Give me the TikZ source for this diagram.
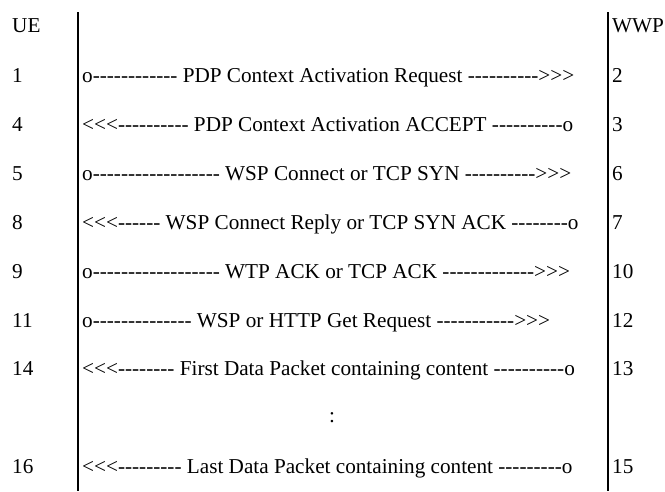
\documentclass[tikz,border=0pt]{standalone}
\usepackage{fontspec}
\setmainfont{Liberation Serif}[Ligatures=TeXOff]
\begin{document}
\begin{tikzpicture}[x=1pt,y=-1pt,
  lbl/.style={anchor=base west,inner sep=0pt,font=\fontsize{21.2}{24}\selectfont},
  msg/.style={anchor=base west,inner sep=0pt,font=\fontsize{21.2}{24}\selectfont},
  lifeline/.style={line width=2pt,black}]
\useasboundingbox (0,0) rectangle (665,491);
\coordinate (ltop) at (77.5,12);
\coordinate (lbot) at (77.5,491);
\coordinate (rtop) at (608,12);
\coordinate (rbot) at (608,491);
\draw[lifeline] (ltop) -- (lbot);
\draw[lifeline] (rtop) -- (rbot);
\node[lbl] (ue) at (12,32) {UE};
\node[lbl] (wwp) at (612,32) {WWP};
% rows
\node[lbl] (l1) at (12,82) {1};
\node[msg] (m1) at (82,82) {o------------ PDP Context Activation Request ---------->>>};
\node[lbl] (r1) at (612,82) {2};
\node[lbl] (l2) at (12,131) {4};
\node[msg] (m2) at (82,131) {<<<---------- PDP Context Activation ACCEPT ----------o};
\node[lbl] (r2) at (612,131) {3};
\node[lbl] (l3) at (12,180) {5};
\node[msg] (m3) at (82,180) {o------------------ WSP Connect or TCP SYN ---------->>>};
\node[lbl] (r3) at (612,180) {6};
\node[lbl] (l4) at (12,229) {8};
\node[msg] (m4) at (82,229) {<<<------ WSP Connect Reply or TCP SYN ACK --------o};
\node[lbl] (r4) at (612,229) {7};
\node[lbl] (l5) at (12,278) {9};
\node[msg] (m5) at (82,278) {o------------------ WTP ACK or TCP ACK ------------->>>};
\node[lbl] (r5) at (612,278) {10};
\node[lbl] (l6) at (12,327) {11};
\node[msg] (m6) at (82,327) {o-------------- WSP or HTTP Get Request ----------->>>};
\node[lbl] (r6) at (612,327) {12};
\node[lbl] (l7) at (12,375) {14};
\node[msg] (m7) at (82,375) {<<<-------- First Data Packet containing content ----------o};
\node[lbl] (r7) at (612,375) {13};
\node[msg,anchor=base] (dots) at (332,422) {:};
\node[lbl] (l8) at (12,473) {16};
\node[msg] (m8) at (82,473) {<<<--------- Last Data Packet containing content ---------o};
\node[lbl] (r8) at (612,473) {15};
\end{tikzpicture}
\end{document}
